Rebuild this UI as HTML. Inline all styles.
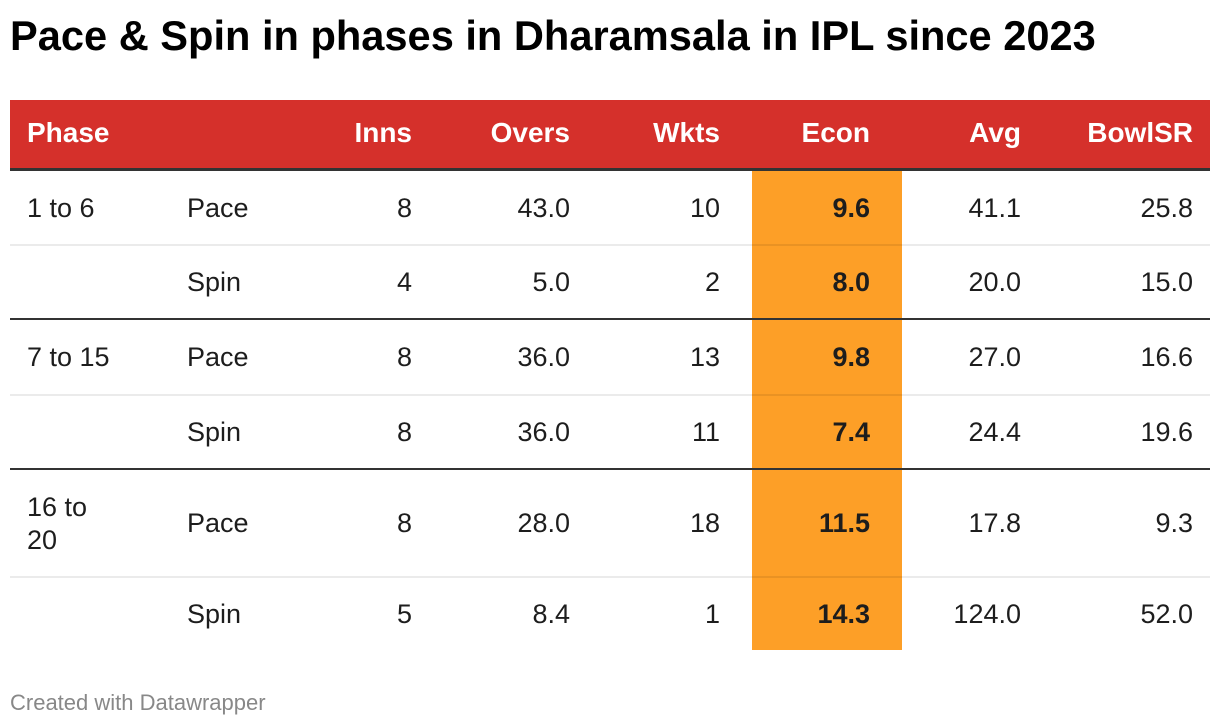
<!DOCTYPE html>
<html>
<head>
<meta charset="utf-8">
<style>
  html, body { margin:0; padding:0; background:#fff; }
  body { width:1220px; height:726px; position:relative; overflow:hidden;
         font-family:"Liberation Sans", Arial, sans-serif; color:#1d1d1d; }
  .abs { position:absolute; white-space:nowrap; }
  .title { left:10px; top:12px; font-size:41.6px; line-height:48px; font-weight:bold; color:#000; }
  .hdr { position:absolute; left:10px; top:100px; width:1200px; height:68px; background:#d5302b; }
  .hdrline { position:absolute; left:10px; top:168px; width:1200px; height:3px; background:#333; }
  .h { position:absolute; top:100px; height:66px; line-height:66px; font-size:28px; font-weight:bold; color:#fff; white-space:nowrap; }
  .r { text-align:right; }
  .orange { position:absolute; left:752px; top:171px; width:150px; height:479px; background:#fd9f27; }
  .light { position:absolute; left:10px; width:1200px; height:2px; background:rgba(0,0,0,0.08); }
  .dark { position:absolute; left:10px; width:1200px; height:2px; background:#333; }
  .c { position:absolute; font-size:27px; white-space:nowrap; }
  .b { font-weight:bold; }
  .footer { left:10px; top:690px; font-size:22px; line-height:26px; color:#888; }
</style>
</head>
<body>
<div class="abs title">Pace &amp; Spin in phases in Dharamsala in IPL since 2023</div>

<div class="hdr"></div>
<div class="hdrline"></div>
<div class="h" style="left:27px;">Phase</div>
<div class="h r" style="right:808px;">Inns</div>
<div class="h r" style="right:650px;">Overs</div>
<div class="h r" style="right:500px;">Wkts</div>
<div class="h r" style="right:350px;">Econ</div>
<div class="h r" style="right:199px;">Avg</div>
<div class="h r" style="right:27px;">BowlSR</div>

<div class="orange"></div>

<div class="light" style="top:244px;"></div>
<div class="dark" style="top:318px;"></div>
<div class="light" style="top:394px;"></div>
<div class="dark" style="top:468px;"></div>
<div class="light" style="top:576px;"></div>

<!-- Row 1 -->
<div class="c" style="left:27px; top:171px; height:74px; line-height:74px;">1 to 6</div>
<div class="c" style="left:187px; top:171px; height:74px; line-height:74px;">Pace</div>
<div class="c r" style="right:808px; top:171px; line-height:74px;">8</div>
<div class="c r" style="right:650px; top:171px; line-height:74px;">43.0</div>
<div class="c r" style="right:500px; top:171px; line-height:74px;">10</div>
<div class="c r b" style="right:350px; top:171px; line-height:74px;">9.6</div>
<div class="c r" style="right:199px; top:171px; line-height:74px;">41.1</div>
<div class="c r" style="right:27px; top:171px; line-height:74px;">25.8</div>

<!-- Row 2 -->
<div class="c" style="left:187px; top:246px; line-height:73px;">Spin</div>
<div class="c r" style="right:808px; top:246px; line-height:73px;">4</div>
<div class="c r" style="right:650px; top:246px; line-height:73px;">5.0</div>
<div class="c r" style="right:500px; top:246px; line-height:73px;">2</div>
<div class="c r b" style="right:350px; top:246px; line-height:73px;">8.0</div>
<div class="c r" style="right:199px; top:246px; line-height:73px;">20.0</div>
<div class="c r" style="right:27px; top:246px; line-height:73px;">15.0</div>

<!-- Row 3 -->
<div class="c" style="left:27px; top:320px; line-height:75px;">7 to 15</div>
<div class="c" style="left:187px; top:320px; line-height:75px;">Pace</div>
<div class="c r" style="right:808px; top:320px; line-height:75px;">8</div>
<div class="c r" style="right:650px; top:320px; line-height:75px;">36.0</div>
<div class="c r" style="right:500px; top:320px; line-height:75px;">13</div>
<div class="c r b" style="right:350px; top:320px; line-height:75px;">9.8</div>
<div class="c r" style="right:199px; top:320px; line-height:75px;">27.0</div>
<div class="c r" style="right:27px; top:320px; line-height:75px;">16.6</div>

<!-- Row 4 -->
<div class="c" style="left:187px; top:396px; line-height:73px;">Spin</div>
<div class="c r" style="right:808px; top:396px; line-height:73px;">8</div>
<div class="c r" style="right:650px; top:396px; line-height:73px;">36.0</div>
<div class="c r" style="right:500px; top:396px; line-height:73px;">11</div>
<div class="c r b" style="right:350px; top:396px; line-height:73px;">7.4</div>
<div class="c r" style="right:199px; top:396px; line-height:73px;">24.4</div>
<div class="c r" style="right:27px; top:396px; line-height:73px;">19.6</div>

<!-- Row 5 -->
<div class="c" style="left:27px; top:491px; line-height:33px;">16 to<br>20</div>
<div class="c" style="left:187px; top:470px; line-height:107px;">Pace</div>
<div class="c r" style="right:808px; top:470px; line-height:107px;">8</div>
<div class="c r" style="right:650px; top:470px; line-height:107px;">28.0</div>
<div class="c r" style="right:500px; top:470px; line-height:107px;">18</div>
<div class="c r b" style="right:350px; top:470px; line-height:107px;">11.5</div>
<div class="c r" style="right:199px; top:470px; line-height:107px;">17.8</div>
<div class="c r" style="right:27px; top:470px; line-height:107px;">9.3</div>

<!-- Row 6 -->
<div class="c" style="left:187px; top:578px; line-height:72px;">Spin</div>
<div class="c r" style="right:808px; top:578px; line-height:72px;">5</div>
<div class="c r" style="right:650px; top:578px; line-height:72px;">8.4</div>
<div class="c r" style="right:500px; top:578px; line-height:72px;">1</div>
<div class="c r b" style="right:350px; top:578px; line-height:72px;">14.3</div>
<div class="c r" style="right:199px; top:578px; line-height:72px;">124.0</div>
<div class="c r" style="right:27px; top:578px; line-height:72px;">52.0</div>

<div class="abs footer">Created with Datawrapper</div>
</body>
</html>
